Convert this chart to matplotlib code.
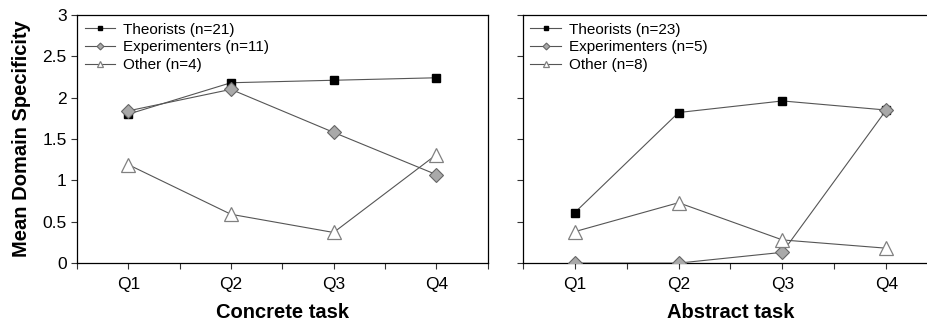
import numpy as np
import matplotlib
matplotlib.use("Agg")
import matplotlib.pyplot as plt

plt.rcParams['font.family'] = ['Liberation Sans', 'DejaVu Sans']

quarters = ['Q1', 'Q2', 'Q3', 'Q4']

# concrete task
conc_theorists = [1.80, 2.18, 2.21, 2.24]
conc_experimenters = [1.84, 2.10, 1.58, 1.07]
conc_other = [1.19, 0.59, 0.37, 1.31]
conc_labels = ['Theorists (n=21)', 'Experimenters (n=11)', 'Other (n=4)']

# abstract task
abs_theorists = [0.61, 1.82, 1.96, 1.85]
abs_experimenters = [0.0, 0.0, 0.13, 1.85]
abs_other = [0.38, 0.73, 0.28, 0.18]
abs_labels = ['Theorists (n=23)', 'Experimenters (n=5)', 'Other (n=8)']

line_col = '#555555'


def draw_panel(ax, theo, expe, oth, labels, xlabel, show_y):
    x = np.arange(1, len(quarters) + 1)
    ax.plot(x, theo, color=line_col, lw=0.8, marker='s', ms=6,
            mfc='black', mec='black', label=labels[0], zorder=3)
    ax.plot(x, expe, color=line_col, lw=0.8, marker='D', ms=7,
            mfc='#a9a9a9', mec='#666666', mew=0.8, label=labels[1], zorder=4)
    ax.plot(x, oth, color=line_col, lw=0.8, marker='^', ms=10,
            mfc='white', mec='#808080', mew=0.9, label=labels[2], zorder=5)
    ax.set_xlim(0.5, 4.5)
    ax.set_ylim(0, 3)
    ax.set_xticks(np.arange(0.5, 4.6, 0.5))
    ax.set_xticklabels(['', 'Q1', '', 'Q2', '', 'Q3', '', 'Q4', ''])
    ax.set_yticks([0, 0.5, 1, 1.5, 2, 2.5, 3])
    if show_y:
        ax.set_yticklabels(['0', '0.5', '1', '1.5', '2', '2.5', '3'])
        ax.set_ylabel('Mean Domain Specificity', fontsize=14.5,
                      fontweight='bold', labelpad=8)
    else:
        ax.set_yticklabels([])
    ax.tick_params(axis='both', labelsize=12.5, direction='out', length=4,
                   width=0.8, color='#333333')
    ax.tick_params(axis='x', pad=6)
    ax.set_xlabel(xlabel, fontsize=14.5, fontweight='bold', labelpad=8)
    for s in ax.spines.values():
        s.set_linewidth(0.9)
    ax.legend(loc='upper left', frameon=False, fontsize=11,
              markerscale=0.5, handlelength=2.0, handletextpad=0.5,
              labelspacing=0.25, borderaxespad=0.1,
              bbox_to_anchor=(0.0, 1.0))


fig = plt.figure(figsize=(9.27, 3.24), dpi=100)
ax1 = fig.add_axes([0.083, 0.188, 0.443, 0.766])
ax2 = fig.add_axes([0.564, 0.188, 0.448, 0.766])

draw_panel(ax1, conc_theorists, conc_experimenters, conc_other,
           conc_labels, 'Concrete task', True)
draw_panel(ax2, abs_theorists, abs_experimenters, abs_other,
           abs_labels, 'Abstract task', False)

fig.savefig('out.png', dpi=100)
